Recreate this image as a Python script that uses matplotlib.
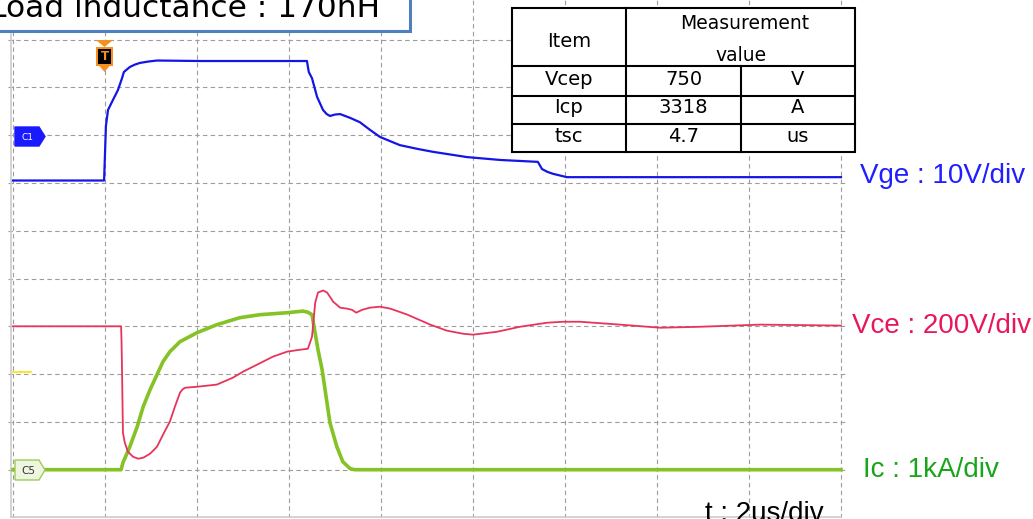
import matplotlib.pyplot as plt
import numpy as np
from matplotlib.patches import Rectangle, Polygon

W, H = 1033, 519

# time in us (2 us/div), trigger at t = 0
t_vge = [-2.0, -0.02, 0.02, 0.065, 0.17, 0.28, 0.37, 0.41, 0.54, 0.65, 0.76, 0.95, 1.13, 2.07,
         4.39, 4.43, 4.50, 4.61, 4.74, 4.82, 4.89, 5.00, 5.11, 5.33, 5.54, 5.76, 5.98, 6.41,
         6.80, 7.13, 7.87, 8.59, 9.41, 9.50, 9.62, 9.74, 10.04, 10.76, 16.0]
vge = [-9.5, -9.5, 1.9, 5.25, 7.3, 9.4, 11.9, 13.2, 14.25, 14.75, 15.1, 15.4, 15.6, 15.5,
       15.5, 13.2, 11.9, 8.0, 5.25, 4.4, 4.0, 4.3, 4.4, 3.6, 2.7, 1.1, -0.4, -2.1,
       -2.9, -3.5, -4.6, -5.2, -5.6, -7.1, -7.7, -8.1, -8.8, -8.8, -8.8]

t_vce = [-2.0, 0.35, 0.36, 0.37, 0.39, 0.43, 0.50, 0.61, 0.72, 0.83, 0.98, 1.13,
         1.26, 1.41, 1.52, 1.63, 1.68, 1.74, 2.00, 2.43, 2.78, 3.00, 3.30, 3.65, 3.96,
         4.24, 4.41, 4.50, 4.57, 4.63, 4.74, 4.83, 4.96, 5.11, 5.26, 5.37, 5.46,
         5.59, 5.76, 5.98, 6.20, 6.57, 7.07, 7.43, 7.78, 8.00, 8.52, 9.02, 9.61,
         9.96, 10.33, 11.2, 12.07, 12.93, 14.24, 16.0]
vce = [600, 600, 531, 418, 155, 113, 75, 54, 46, 50, 67, 96,
       146, 201, 264, 322, 335, 343, 347, 356, 385, 410, 439, 473, 494,
       502, 506, 556, 699, 741, 750, 741, 703, 678, 674, 669, 657,
       669, 678, 682, 674, 649, 607, 582, 569, 565, 577, 598, 615,
       619, 619, 607, 594, 598, 607, 603]

t_ic = [-2.0, 0.35, 0.39, 0.54, 0.70, 0.83, 0.98, 1.13, 1.26, 1.41, 1.63, 2.00,
        2.43, 2.93, 3.37, 3.96, 4.30, 4.41, 4.50, 4.63, 4.72, 4.89, 5.04, 5.17,
        5.33, 5.43, 16.0]
ic = [0, 0, 146, 481, 900, 1318, 1674, 1987, 2259, 2469, 2678, 2866,
      3033, 3180, 3243, 3284, 3318, 3295, 3243, 2510, 2092, 983, 481, 167,
      21, 0, 0]

# channel scale per div and ground position (div from bottom)
VGE_DIV, VGE_GND = 10, 8.0
VCE_DIV, VCE_GND = 200, 1.0
IC_DIV, IC_GND = 1000, 1.0

table_rows = [["Vcep", "750", "V"], ["Icp", "3318", "A"], ["tsc", "4.7", "us"]]

fig = plt.figure(figsize=(W / 100, H / 100), dpi=100)

# scope screen: 92 px per time div, 47.8 px per vertical div
x0, x1 = 8, 846
ax = fig.add_axes([x0 / W, 1.5 / H, (x1 - x0) / W, 517.5 / H])
ax.set_xlim(-2 - 5 / 46, 16 + 5 / 46)
ax.set_ylim(0, 517.5 / 47.8)
for s in ax.spines.values():
    s.set_visible(False)
ax.set_xticks(np.arange(-2, 17, 2))
ax.set_yticks(range(1, 11))
ax.tick_params(length=0, labelbottom=False, labelleft=False)
ax.grid(True, ls=(0, (4, 3)), color="#9c9c9c", lw=0.8)
ax.plot([-2.04, 16], [0.02, 0.02], color="#cccccc", lw=1.2)
ax.plot([-2.04, -2.04], [0, 11], color="#cccccc", lw=1.2)

ax.plot(t_ic, [IC_GND + v / IC_DIV for v in ic], color="#84c225", lw=2.6)
ax.plot(t_vce, [VCE_GND + v / VCE_DIV for v in vce], color="#e8335a", lw=1.3)
ax.plot(t_vge, [VGE_GND + v / VGE_DIV for v in vge], color="#1515e6", lw=1.6)

# overlay in pixel coordinates for tags, table and labels
ov = fig.add_axes([0, 0, 1, 1])
ov.set_xlim(0, W)
ov.set_ylim(H, 0)
ov.axis("off")

# channel tags
ov.add_patch(Polygon([(15, 127), (39, 127), (45, 136.5), (39, 146), (15, 146)],
                     closed=True, fc="#1a1aff", ec="#1a1aff", lw=1))
ov.text(27, 137, "C1", color="white", fontsize=6.5, ha="center", va="center")
ov.add_patch(Polygon([(15, 460), (39, 460), (45, 470), (39, 480), (15, 480)],
                     closed=True, fc="#eef6e0", ec="#9ccc55", lw=1))
ov.text(28, 470.5, "C5", color="#333333", fontsize=7.5, ha="center", va="center")
ov.plot([13, 31], [372, 372], color="#f2e600", lw=1.2)

# trigger marker
ov.add_patch(Polygon([(96, 40), (113, 40), (104.5, 47)], closed=True, fc="#f5901e", ec="none"))
ov.add_patch(Rectangle((96, 47), 17, 19, fc="#f5901e", ec="none"))
ov.add_patch(Rectangle((98, 49), 13, 15, fc="black", ec="none"))
ov.add_patch(Polygon([(99.5, 66), (109.5, 66), (104.5, 72)], closed=True, fc="#f5901e", ec="none"))
ov.text(104.5, 57, "T", color="#f5901e", fontsize=8.5, fontweight="bold", ha="center", va="center")

# title box
ov.add_patch(Rectangle((-20, -20), 432, 53, fc="#c8c8c8", ec="none"))
ov.add_patch(Rectangle((-20, -20), 430, 51, fc="white", ec="#4f7fbf", lw=2.2))
ov.text(380, 17, "Load inductance : 170nH", fontsize=22.5, ha="right", va="baseline",
        family="DejaVu Sans", color="black")

# measurement table
tx0, tx1, tx2, tx3 = 512, 626, 741, 855
ty = [8, 66, 96, 124, 152]
ov.add_patch(Rectangle((tx0, ty[0]), tx3 - tx0, ty[-1] - ty[0], fc="white", ec="black", lw=1.5))
for y in ty[1:-1]:
    ov.plot([tx0, tx3], [y, y], color="black", lw=1.5)
ov.plot([tx1, tx1], [ty[0], ty[-1]], color="black", lw=1.5)
ov.plot([tx2, tx2], [ty[1], ty[-1]], color="black", lw=1.5)
ov.text((tx0 + tx1) / 2, 47, "Item", fontsize=14, ha="center", va="baseline")
ov.text((tx1 + tx3) / 2 + 4, 29, "Measurement", fontsize=13.5, ha="center", va="baseline")
ov.text((tx1 + tx3) / 2, 61, "value", fontsize=13.5, ha="center", va="baseline")
for row, base in zip(table_rows, [85, 113, 142]):
    for txt, cx in zip(row, [(tx0 + tx1) / 2, (tx1 + tx2) / 2, (tx2 + tx3) / 2]):
        ov.text(cx, base, txt, fontsize=14, ha="center", va="baseline")

# channel labels
lab = dict(fontsize=20, family="Liberation Sans", ha="left", va="baseline")
ov.text(860, 183, "Vge : 10V/div", color="#1f1fff", **lab)
ov.text(852, 333, "Vce : 200V/div", color="#e8175d", **lab)
ov.text(863, 477, "Ic : 1kA/div", color="#19a519", **lab)
ov.text(705, 521, "t : 2us/div", color="black", **lab)

fig.savefig("out.png", dpi=100)
